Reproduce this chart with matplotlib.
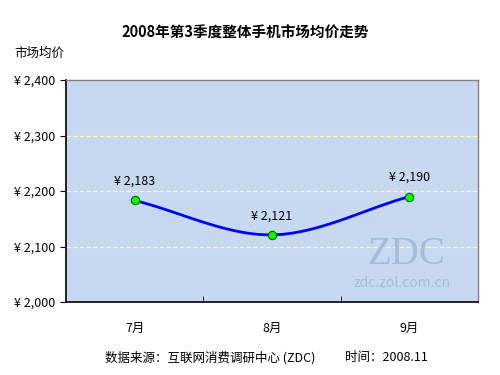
import numpy as np
import matplotlib
matplotlib.use("Agg")
import matplotlib.pyplot as plt

plt.rcParams['font.family'] = ['Noto Sans CJK SC', 'DejaVu Sans']

months = ['7月', '8月', '9月']
prices = [2183, 2121, 2190]
yticks = [2000, 2100, 2200, 2300, 2400]

fig = plt.figure(figsize=(5, 3.75), dpi=100)
ax = fig.add_axes([66/500, 1-302/375, 412/500, 222/375])
ax.set_facecolor('#C6D9F0')

x = np.arange(len(prices), dtype=float)
y = np.array(prices, dtype=float)

# Catmull-Rom smoothing (like Excel smoothed line)
px = np.concatenate([[2*x[0]-x[1]], x, [2*x[-1]-x[-2]]])
py = np.concatenate([[2*y[0]-y[1]], y, [2*y[-1]-y[-2]]])
sx, sy = [], []
t = np.linspace(0, 1, 40)
for i in range(1, len(px)-2):
    p0, p1, p2, p3 = [np.array([px[j], py[j]]) for j in range(i-1, i+3)]
    b1 = p1 + (p2-p0)/6
    b2 = p2 - (p3-p1)/6
    for tt in t:
        pt = (1-tt)**3*p1 + 3*(1-tt)**2*tt*b1 + 3*(1-tt)*tt**2*b2 + tt**3*p2
        sx.append(pt[0]); sy.append(pt[1])
ax.plot(sx, sy, color='#0000FF', lw=2, zorder=3)
ax.plot(x, y, 'o', ms=6, mfc='#00FF00', mec='#006600', mew=0.8, zorder=4)

for xi, yi in zip(x, y):
    ax.annotate(f'¥ {yi:,.0f}', (xi, yi), xytext=(0, 9), textcoords='offset points',
                ha='center', va='bottom', fontsize=9, color='#000000')

ax.set_xlim(-0.5, 2.5)
ax.set_ylim(2000, 2400)
ax.set_yticks(yticks)
ax.set_yticklabels([f'¥ {v:,}' for v in yticks], fontsize=9)
ax.set_xticks(x)
ax.set_xticklabels(months, fontsize=9)
ax.set_xticks([0.5, 1.5], minor=True)
ax.tick_params(axis='x', which='major', length=0, pad=14)
ax.tick_params(axis='x', which='minor', length=4, direction='in')
ax.tick_params(axis='y', length=4, direction='out', pad=4)
for v in yticks[1:-1]:
    ax.axhline(v, color='#FFFFB0', lw=0.8, ls=(0, (4, 2)), zorder=1)

for s in ['left', 'bottom']:
    ax.spines[s].set_color('black')
    ax.spines[s].set_linewidth(1.2)
for s in ['top', 'right']:
    ax.spines[s].set_color('#808080')
    ax.spines[s].set_linewidth(1)

# watermark
ax.text(0.825, 0.215, 'ZDC', transform=ax.transAxes, fontsize=28, family='Liberation Serif',
        color='#A6BBD6', ha='center', va='center', zorder=2)
ax.text(0.815, 0.085, 'zdc.zol.com.cn', transform=ax.transAxes, fontsize=10,
        color='#A6BBD6', ha='center', va='center', zorder=2)

fig.text(0.49, 1-33/375, '2008年第3季度整体手机市场均价走势', ha='center', va='center',
         fontsize=10.5, fontweight='bold')
fig.text(14/500, 1-53/375, '市场均价', ha='left', va='center', fontsize=9)
fig.text(105/500, 1-358/375, '数据来源：互联网消费调研中心 (ZDC)', ha='left', va='center', fontsize=9)
fig.text(345/500, 1-358/375, '时间：2008.11', ha='left', va='center', fontsize=9)

fig.savefig('out.png', dpi=100)
